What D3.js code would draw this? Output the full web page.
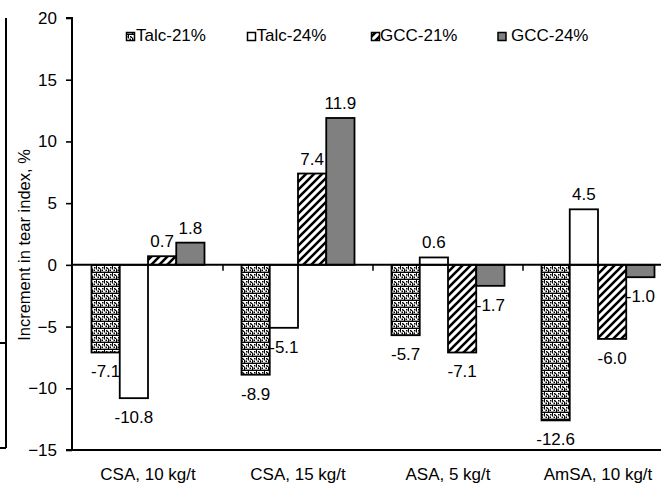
<!DOCTYPE html>
<html><head><meta charset="utf-8">
<script src="https://cdn.jsdelivr.net/npm/d3@7"></script>
<style>
html,body{margin:0;padding:0;background:#fff;}
svg{display:block;font-family:Arial,"Liberation Sans",sans-serif;}
</style></head>
<body>
<script>
const categories = ["CSA, 10 kg/t", "CSA, 15 kg/t", "ASA, 5 kg/t", "AmSA, 10 kg/t"];
const seriesNames = ["Talc-21%", "Talc-24%", "GCC-21%", "GCC-24%"];
const talc21 = [-7.1, -8.9, -5.7, -12.6];
const talc24 = [-10.8, -5.1, 0.6, 4.5];
const gcc21 = [0.7, 7.4, -7.1, -6.0];
const gcc24 = [1.8, 11.9, -1.7, -1.0];
const yTicks = [-15, -10, -5, 0, 5, 10, 15, 20];
const valueLabels = [
  ["-7.1", "-8.9", "-5.7", "-12.6"],
  ["-10.8", "-5.1", "0.6", "4.5"],
  ["0.7", "7.4", "-7.1", "-6.0"],
  ["1.8", "11.9", "-1.7", "-1.0"]
];
const seriesValues = [talc21, talc24, gcc21, gcc24];

const W = 661, H = 484;
const FS = 17;
const svg = d3.select("body").append("svg").attr("width", W).attr("height", H);
const defs = svg.append("defs");

// Talc-21 brick/confetti pattern
const p1 = defs.append("pattern").attr("id", "pBrick").attr("patternUnits", "userSpaceOnUse")
  .attr("width", 8).attr("height", 7);
p1.append("rect").attr("width", 8).attr("height", 7).attr("fill", "#fff");
p1.append("path").attr("d", "M0,6.4H8").attr("stroke", "#000").attr("stroke-width", 1.6);
p1.append("path").attr("d", "M0.5,0V3.5M4.5,2.5V6").attr("stroke", "#000").attr("stroke-width", 1);
p1.append("path").attr("d", "M2,1h1.5v1.5h-1.5zM6,1h1.5v1.5h-1.5zM1.5,3.5h1.5v1.5h-1.5zM5.5,3.5h1.5v1.5h-1.5zM3,2h1v1h-1z").attr("fill", "#000");

// GCC-21 diagonal stripes
const p2 = defs.append("pattern").attr("id", "pDiag").attr("patternUnits", "userSpaceOnUse")
  .attr("width", 8).attr("height", 8);
p2.append("rect").attr("width", 8).attr("height", 8).attr("fill", "#fff");
p2.append("path").attr("d", "M-2,2L2,-2M0,8L8,0M6,10L10,6").attr("stroke", "#000").attr("stroke-width", 2.6);

const fills = ["url(#pBrick)", "#fff", "url(#pDiag)", "#808080"];

const x0 = d3.scaleBand().domain(categories).range([73, 673]).paddingInner(0).paddingOuter(0);
const x1 = d3.scaleBand().domain(seriesNames).range([0, x0.bandwidth()]).paddingInner(0).paddingOuter(0.655);
const y = d3.scaleLinear().domain([-15, 20]).range([450, 18]);

// left artifact (edge of a neighbouring chart)
svg.append("path").attr("d", "M6,18V448M0,343H6M0,448H6").attr("stroke", "#000").attr("stroke-width", 2).attr("fill", "none");

// bars
seriesNames.forEach((s, j) => {
  const g = svg.append("g");
  g.selectAll("rect").data(categories).join("rect")
    .attr("x", (c) => x0(c) + x1(s))
    .attr("width", x1.bandwidth())
    .attr("y", (c, i) => y(Math.max(0, seriesValues[j][i])))
    .attr("height", (c, i) => Math.abs(y(seriesValues[j][i]) - y(0)))
    .attr("fill", fills[j])
    .attr("stroke", "#000").attr("stroke-width", 1.8);
});

// zero line with ticks
svg.append("line").attr("x1", 72).attr("x2", W).attr("y1", y(0)).attr("y2", y(0))
  .attr("stroke", "#000").attr("stroke-width", 2);
svg.append("g").selectAll("line").data(categories.slice(1)).join("line")
  .attr("x1", (c) => x0(c)).attr("x2", (c) => x0(c))
  .attr("y1", y(0)).attr("y2", y(0) + 6)
  .attr("stroke", "#000").attr("stroke-width", 1.5);

// bottom line
svg.append("line").attr("x1", 72).attr("x2", W).attr("y1", y(-15)).attr("y2", y(-15))
  .attr("stroke", "#000").attr("stroke-width", 2);

// y axis
const yAxis = d3.axisLeft(y).tickValues(yTicks).tickSize(6).tickPadding(9).tickFormat(d3.format("d"));
const ya = svg.append("g").attr("transform", "translate(72,0)").call(yAxis);
ya.select(".domain").attr("stroke-width", 2).attr("d", `M-6,${y(20)}H0V${y(-15)}H-6`);
ya.selectAll(".tick line").attr("stroke-width", 1.6);
ya.selectAll(".tick text").attr("font-size", FS).attr("font-family", "Arial,'Liberation Sans',sans-serif").attr("fill", "#000");

// y label
svg.append("text").attr("transform", `translate(30,245) rotate(-90)`)
  .attr("text-anchor", "middle").attr("font-size", 16.5).text("Increment in tear index, %");

// category labels
svg.append("g").selectAll("text").data(categories).join("text")
  .attr("x", (c) => x0(c) + x0.bandwidth() / 2).attr("y", 480)
  .attr("text-anchor", "middle").attr("font-size", FS).text((c) => c);

// value labels
seriesNames.forEach((s, j) => {
  svg.append("g").selectAll("text").data(categories).join("text")
    .attr("x", (c) => x0(c) + x1(s) + x1.bandwidth() / 2)
    .attr("y", (c, i) => {
      const v = seriesValues[j][i];
      return v >= 0 ? y(v) - 15 + 6 : y(v) + 19 + 6;
    })
    .attr("text-anchor", "middle").attr("font-size", FS)
    .text((c, i) => valueLabels[j][i]);
});

// legend
const legX = [126.5, 247.5, 371.5, 498];
const legTextX = [136, 256.5, 380, 511];
const lg = svg.append("g");
seriesNames.forEach((s, j) => {
  lg.append("rect").attr("x", legX[j]).attr("y", 32.5).attr("width", 8).attr("height", 8)
    .attr("fill", fills[j]).attr("stroke", "#000").attr("stroke-width", 1.5);
  lg.append("text").attr("x", legTextX[j]).attr("y", 40.5).attr("font-size", FS).text(s);
});
</script>
</body></html>
